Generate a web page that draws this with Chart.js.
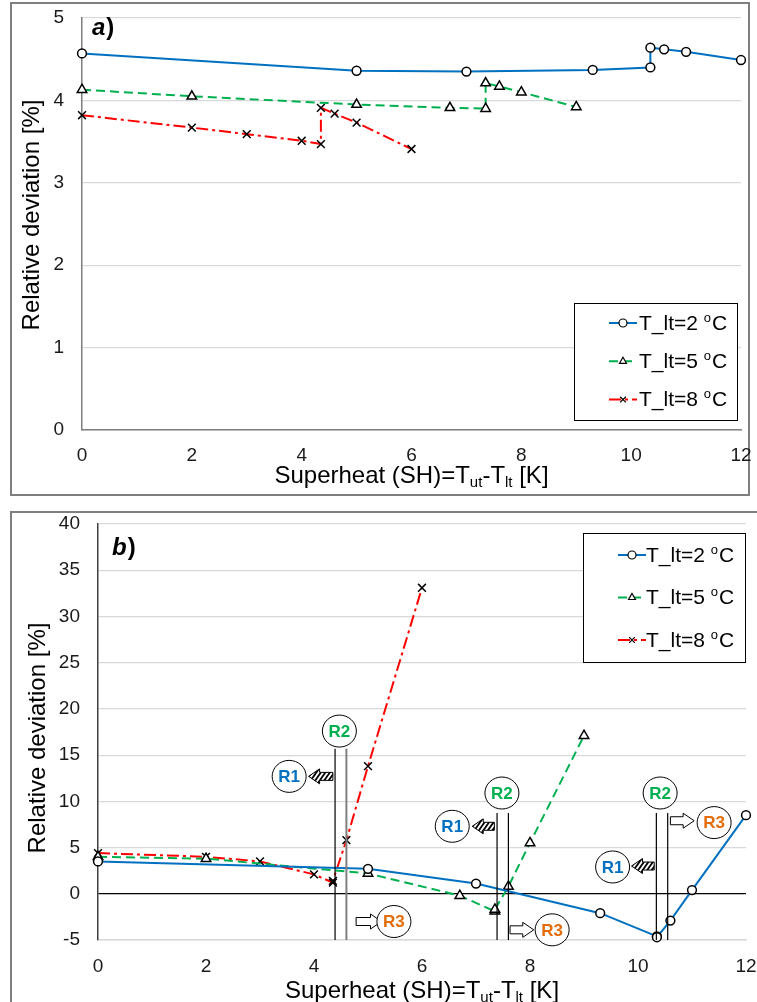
<!doctype html>
<html lang="en">
<head>
<meta charset="utf-8">
<title>Relative deviation vs superheat</title>
<script src="https://cdn.jsdelivr.net/npm/chart.js"></script>
<style>
  body { margin: 0; background: #fff; }
  .frame { position: absolute; border: 2px solid #7f7f7f; box-sizing: border-box; }
  canvas { position: absolute; left: 0; }
</style>
</head>
<body>
<div class="frame" style="left:10px;top:2px;width:740px;height:494px"></div>
<div class="frame" style="left:10px;top:511px;width:760px;height:500px"></div>
<canvas id="chartA" width="757" height="500" style="top:0"></canvas>
<canvas id="chartB" width="757" height="497" style="top:505px"></canvas>
<script>
// superheat values (x) for each evaporator temperature series
const sh2 = [0, 5, 7, 9.3, 10.35, 10.35, 10.6, 11, 12];
const sh5 = [0, 2, 5, 6.7, 7.35, 7.35, 7.6, 8, 9];
const sh8 = [0, 2, 3, 4, 4.35, 4.35, 4.6, 5, 6];
const tempsLt = [2, 5, 8];

// panel a) relative deviation [%]
const devA2 = [4.57, 4.36, 4.35, 4.37, 4.40, 4.64, 4.62, 4.59, 4.49];
const devA5 = [4.13, 4.05, 3.95, 3.91, 3.90, 4.21, 4.17, 4.10, 3.92];
const devA8 = [3.82, 3.67, 3.59, 3.51, 3.47, 3.91, 3.84, 3.73, 3.41];

// panel b) relative deviation [%]
const devB2 = [3.5, 2.7, 1.1, -2.1, -4.6, -4.7, -2.9, 0.4, 8.5];
const devB5 = [4.0, 3.8, 2.2, -0.2, -1.9, -1.7, 0.8, 5.5, 17.1];
const devB8 = [4.4, 4.0, 3.5, 2.1, 1.2, 1.4, 5.8, 13.8, 33.1];

// axis ranges: [min, max, step]
const xRange = [0, 12, 2];
const yRangeA = [0, 5, 1];
const yRangeB = [-5, 40, 5];

// region markers in panel b (data units)
const regionLines = [
  { x: 4.39, top: 15.7, color: '#000' }, { x: 4.6, top: 15.7, color: '#7f7f7f' },
  { x: 7.39, top: 8.75, color: '#000' }, { x: 7.6, top: 8.75, color: '#000' },
  { x: 10.34, top: 8.75, color: '#000' }, { x: 10.55, top: 8.75, color: '#000' }
];
const regionTags = [
  { x: 4.47, y: 17.6, text: 'R2' }, { x: 3.54, y: 12.7, text: 'R1' }, { x: 5.48, y: -3.0, text: 'R3' },
  { x: 7.48, y: 10.9, text: 'R2' }, { x: 6.56, y: 7.3, text: 'R1' }, { x: 8.41, y: -3.9, text: 'R3' },
  { x: 10.41, y: 10.9, text: 'R2' }, { x: 9.53, y: 2.9, text: 'R1' }, { x: 11.41, y: 7.7, text: 'R3' }
];
const regionArrows = [
  { from: 4.35, to: 3.9, y: 12.7, hatch: true }, { from: 4.78, to: 5.25, y: -3.0, hatch: false },
  { from: 7.34, to: 6.93, y: 7.3, hatch: true }, { from: 7.63, to: 8.07, y: -3.9, hatch: false },
  { from: 10.3, to: 9.88, y: 3.0, hatch: true }, { from: 10.6, to: 11.04, y: 7.9, hatch: false }
];
const tagColors = { R1: '#0070C0', R2: '#00B050', R3: '#E46C0A' };

const FONT = '"Liberation Sans", Arial, sans-serif';
const seriesStyle = [
  { color: '#0070C0', dash: [], point: 'circle', r: 4.4 },
  { color: '#00B050', dash: [9, 5], point: 'triangle', r: 5.5 },
  { color: '#FF0000', dash: [12, 4, 3, 4], point: 'crossRot', r: 5.5 }
];

function pts(xs, ys) {
  return xs.map((x, i) => ({ x: x, y: ys[i] }));
}

function buildDatasets(xsList, ysList) {
  return ysList.map((ys, i) => ({
    label: 'T_lt=' + tempsLt[i] + ' oC',
    data: pts(xsList[i], ys),
    showLine: true,
    borderColor: seriesStyle[i].color,
    borderWidth: 2,
    borderDash: seriesStyle[i].dash,
    pointStyle: seriesStyle[i].point,
    pointRadius: seriesStyle[i].r,
    pointBorderColor: '#000',
    pointBackgroundColor: '#fff',
    pointBorderWidth: 1.5,
    tension: 0,
    clip: false
  }));
}

function arrowPath(ctx, xs, xt, y) {
  const dir = xt < xs ? -1 : 1;
  const head = 11, hh = 7.5, sh = 4;
  const xb = xt - dir * head;
  ctx.beginPath();
  ctx.moveTo(xt, y);
  ctx.lineTo(xb, y - hh);
  ctx.lineTo(xb, y - sh);
  ctx.lineTo(xs, y - sh);
  ctx.lineTo(xs, y + sh);
  ctx.lineTo(xb, y + sh);
  ctx.lineTo(xb, y + hh);
  ctx.closePath();
}

function drawArrow(ctx, xs, xt, y, hatch) {
  arrowPath(ctx, xs, xt, y);
  ctx.fillStyle = '#fff';
  ctx.fill();
  if (hatch) {
    ctx.save();
    ctx.clip();
    ctx.strokeStyle = '#000';
    ctx.lineWidth = 1.8;
    const x0 = Math.min(xs, xt) - 20, x1 = Math.max(xs, xt) + 20;
    for (let x = x0; x < x1; x += 4.5) {
      ctx.beginPath();
      ctx.moveTo(x, y + 10);
      ctx.lineTo(x + 14, y - 10);
      ctx.stroke();
    }
    ctx.restore();
  }
  arrowPath(ctx, xs, xt, y);
  ctx.strokeStyle = '#000';
  ctx.lineWidth = 1;
  ctx.stroke();
}

function makeDecor(cfg) {
  return {
    id: 'decor',
    afterDraw(chart) {
      const ctx = chart.ctx;
      const sx = chart.scales.x, sy = chart.scales.y;
      ctx.save();

      if (cfg.regions) {
        regionLines.forEach(l => {
          const px = sx.getPixelForValue(l.x);
          ctx.beginPath();
          ctx.moveTo(px, sy.getPixelForValue(l.top));
          ctx.lineTo(px, sy.getPixelForValue(sy.min));
          ctx.strokeStyle = l.color;
          ctx.lineWidth = l.color === '#000' ? 1.2 : 2;
          ctx.stroke();
        });
        regionArrows.forEach(a => {
          drawArrow(ctx, sx.getPixelForValue(a.from), sx.getPixelForValue(a.to), sy.getPixelForValue(a.y), a.hatch);
        });
        regionTags.forEach(t => {
          const px = sx.getPixelForValue(t.x), py = sy.getPixelForValue(t.y);
          ctx.beginPath();
          ctx.ellipse(px, py, 17, 16, 0, 0, Math.PI * 2);
          ctx.fillStyle = '#fff';
          ctx.fill();
          ctx.strokeStyle = '#000';
          ctx.lineWidth = 1;
          ctx.stroke();
          ctx.font = 'bold 17px ' + FONT;
          ctx.fillStyle = tagColors[t.text];
          ctx.textAlign = 'center';
          ctx.textBaseline = 'middle';
          ctx.fillText(t.text, px, py + 1);
        });
      }

      // legend box
      const L = cfg.legend;
      ctx.fillStyle = '#fff';
      ctx.fillRect(L.x, L.y, L.w, L.h);
      ctx.strokeStyle = '#000';
      ctx.lineWidth = 1;
      ctx.strokeRect(L.x + 0.5, L.y + 0.5, L.w, L.h);
      chart.data.datasets.forEach((ds, i) => {
        const y = L.y + L.first + i * L.gap;
        const lx = L.x + L.lineX;
        ctx.beginPath();
        ctx.setLineDash(ds.borderDash);
        ctx.moveTo(lx, y);
        ctx.lineTo(lx + 28, y);
        ctx.strokeStyle = ds.borderColor;
        ctx.lineWidth = 2;
        ctx.stroke();
        ctx.setLineDash([]);
        ctx.strokeStyle = '#000';
        ctx.fillStyle = '#fff';
        ctx.lineWidth = 1.2;
        Chart.helpers.drawPoint(ctx, { pointStyle: ds.pointStyle, radius: 4, rotation: 0, borderWidth: 1.2 }, lx + 14, y);
        const tx = L.x + L.textX;
        ctx.fillStyle = '#000';
        ctx.textAlign = 'left';
        ctx.textBaseline = 'middle';
        ctx.font = '21px ' + FONT;
        const main = 'T_lt=' + tempsLt[i] + ' ';
        ctx.fillText(main, tx, y + 1);
        const w = ctx.measureText(main).width;
        ctx.font = '13px ' + FONT;
        ctx.fillText('o', tx + w, y - 5);
        const wo = ctx.measureText('o').width;
        ctx.font = '21px ' + FONT;
        ctx.fillText('C', tx + w + wo + 1, y + 1);
      });

      // panel tag
      ctx.fillStyle = '#000';
      ctx.textAlign = 'left';
      ctx.textBaseline = 'alphabetic';
      ctx.font = 'italic bold 24px ' + FONT;
      ctx.fillText(cfg.tag, cfg.tagX, cfg.tagY);
      const tw = ctx.measureText(cfg.tag).width;
      ctx.font = 'bold 24px ' + FONT;
      ctx.fillText(')', cfg.tagX + tw + 1, cfg.tagY);

      // y axis title
      ctx.save();
      ctx.translate(cfg.yTitleX, cfg.yTitleY);
      ctx.rotate(-Math.PI / 2);
      ctx.font = '24px ' + FONT;
      ctx.textAlign = 'center';
      ctx.textBaseline = 'middle';
      ctx.fillText('Relative deviation [%]', 0, 0);
      ctx.restore();

      // x axis title with subscripts
      const parts = [['Superheat (SH)=T', false], ['ut', true], ['-T', false], ['lt', true], [' [K]', false]];
      const big = '24px ' + FONT, small = '15px ' + FONT;
      let total = 0;
      parts.forEach(p => { ctx.font = p[1] ? small : big; total += ctx.measureText(p[0]).width; });
      let x = (chart.chartArea.left + chart.chartArea.right) / 2 - total / 2;
      ctx.textAlign = 'left';
      ctx.textBaseline = 'alphabetic';
      parts.forEach(p => {
        ctx.font = p[1] ? small : big;
        ctx.fillText(p[0], x, cfg.xTitleY + (p[1] ? 4 : 0));
        x += ctx.measureText(p[0]).width;
      });

      ctx.restore();
    }
  };
}

function makeChart(id, ysList, yRange, cfg) {
  const tickFont = { family: FONT, size: 19 };
  return new Chart(document.getElementById(id), {
    type: 'scatter',
    data: { datasets: buildDatasets([sh2, sh5, sh8], ysList) },
    options: {
      responsive: false,
      animation: false,
      events: [],
      layout: { padding: cfg.padding },
      plugins: { legend: { display: false }, tooltip: { enabled: false } },
      scales: {
        x: {
          type: 'linear', min: xRange[0], max: xRange[1],
          ticks: { stepSize: xRange[2], padding: cfg.xTickPad, color: '#1a1a1a', font: tickFont },
          grid: { display: false, drawTicks: false },
          border: { color: cfg.xBorder, width: 1.5 },
          afterFit: s => { s.height = cfg.xHeight; s.paddingLeft = 0; s.paddingRight = 0; }
        },
        y: {
          min: yRange[0], max: yRange[1],
          ticks: { stepSize: yRange[2], padding: cfg.yTickPad, color: '#1a1a1a', font: tickFont },
          grid: { drawTicks: false, lineWidth: 1.2, color: c => (c.tick && c.tick.value === 0 && yRange[0] < 0) ? '#000' : '#d9d9d9' },
          border: { color: cfg.yBorder, width: 1.5 },
          afterFit: s => { s.width = cfg.yWidth; s.paddingTop = 0; s.paddingBottom = 0; }
        }
      }
    },
    plugins: [makeDecor(cfg)]
  });
}

makeChart('chartA', [devA2, devA5, devA8], yRangeA, {
  padding: { left: 0, right: 16, top: 18, bottom: 0 },
  xHeight: 70, yWidth: 82, xTickPad: 14, yTickPad: 18,
  xBorder: '#7f7f7f', yBorder: '#7f7f7f',
  legend: { x: 574, y: 303, w: 163, h: 117, first: 20, gap: 38.3, lineX: 35, textX: 65 },
  tag: 'a', tagX: 92, tagY: 35,
  yTitleX: 32, yTitleY: 215, xTitleY: 483,
  regions: false
});

makeChart('chartB', [devB2, devB5, devB8], yRangeB, {
  padding: { left: 0, right: 11, top: 19, bottom: 0 },
  xHeight: 62, yWidth: 98, xTickPad: 15, yTickPad: 18,
  xBorder: '#d9d9d9', yBorder: '#404040',
  legend: { x: 583, y: 28, w: 162, h: 129, first: 22, gap: 42.5, lineX: 35, textX: 63 },
  tag: 'b', tagX: 112, tagY: 50,
  yTitleX: 38, yTitleY: 233, xTitleY: 493,
  regions: true
});
</script>
</body>
</html>
